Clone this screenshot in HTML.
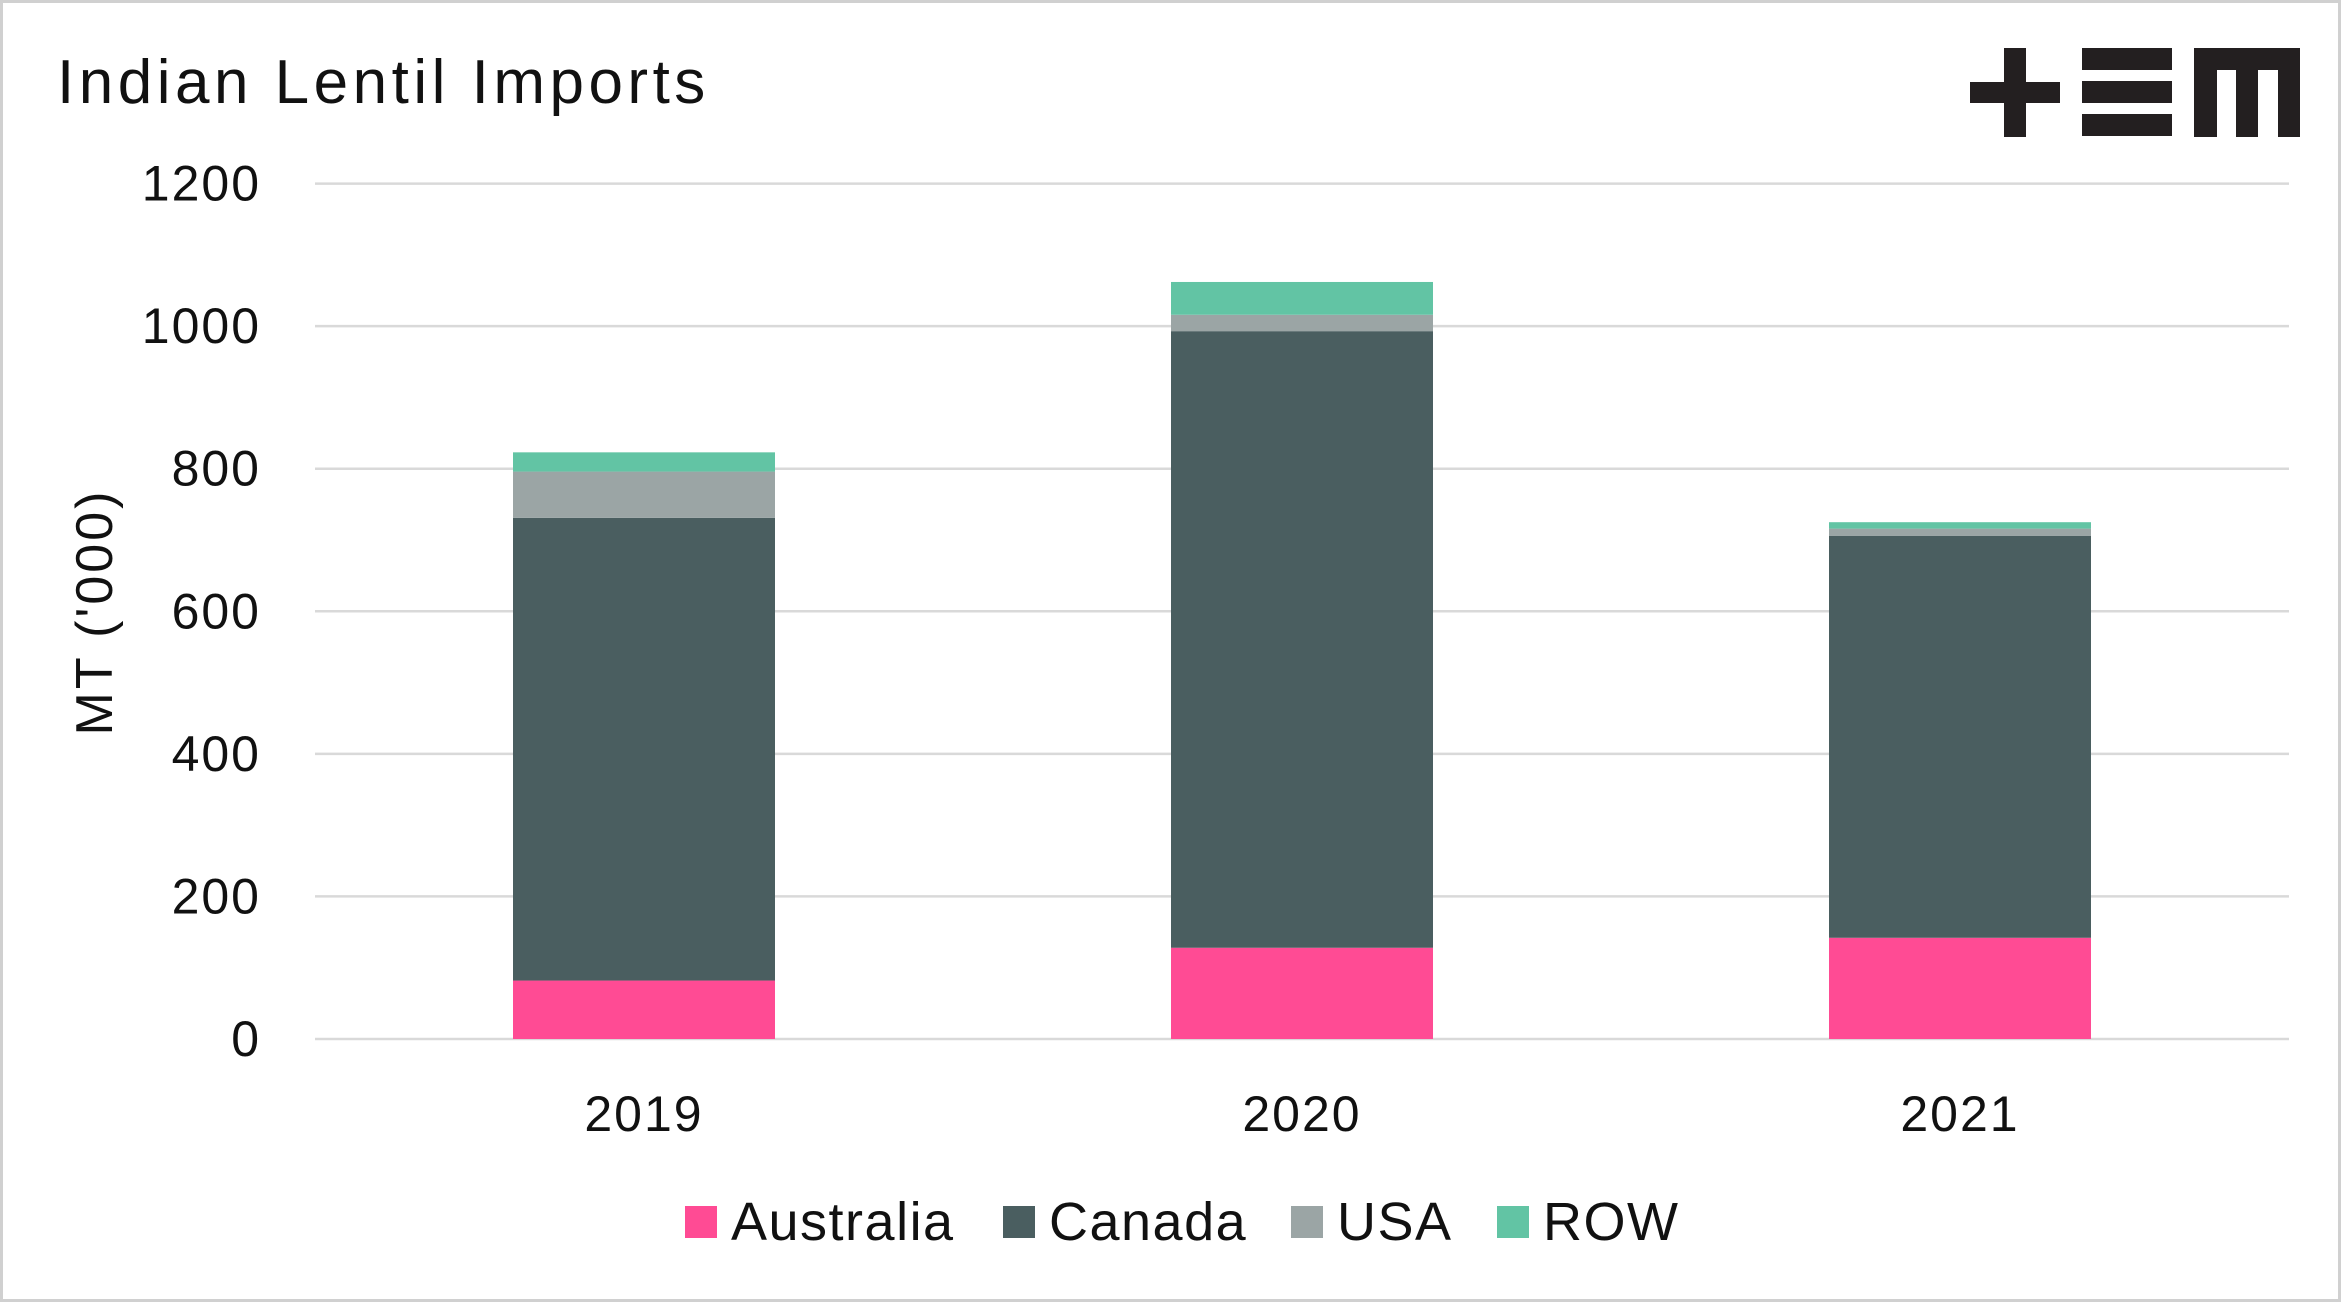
<!DOCTYPE html>
<html><head><meta charset="utf-8"><style>
html,body{margin:0;padding:0;background:#fff}
svg{display:block;font-family:"Liberation Sans",sans-serif}
</style></head><body>
<svg id="chart" width="2341" height="1302" viewBox="0 0 2341 1302">
<rect x="1.5" y="1.5" width="2338" height="1299" fill="#fff" stroke="#d0d0d0" stroke-width="3"/>
<text x="57" y="103" font-size="62" letter-spacing="4.5" fill="#111">Indian Lentil Imports</text>
<g fill="#231f20">
<rect x="1970" y="82" width="90" height="21"/><rect x="2004" y="48" width="22" height="89"/>
<rect x="2082" y="48" width="90" height="22"/><rect x="2082" y="81" width="90" height="22"/><rect x="2082" y="114" width="90" height="22"/>
<rect x="2194" y="48" width="106" height="22"/><rect x="2194" y="48" width="23" height="89"/><rect x="2236" y="48" width="22" height="89"/><rect x="2278" y="48" width="22" height="89"/>
</g>
<g id="grid"></g><g id="bars"></g><g id="labels"></g>
<text transform="translate(112,612) rotate(-90)" text-anchor="middle" font-size="52" letter-spacing="3" fill="#111">MT ('000)</text>
<g id="legend"></g>
</svg>
<script>
const categories = ["2019","2020","2021"];
const seriesNames = ["Australia","Canada","USA","ROW"];
const australia = [82,128,142];
const canada = [649,865,564];
const usa = [65,23,10];
const row = [27,46,9];
const yTicks = [0,200,400,600,800,1000,1200];
const colors = ["#ff4b94","#4a5e60","#9ba5a5","#62c4a4"];
const series = [australia,canada,usa,row];
const NS="http://www.w3.org/2000/svg";
const x0=315,x1=2289,yBase=1039,yTop=183.6,yMax=1200;
const y=v=>yBase-(v/yMax)*(yBase-yTop);
const bandW=(x1-x0)/categories.length, barW=262;
const xc=i=>x0+bandW*(i+0.5);
function mk(t,a,p){const e=document.createElementNS(NS,t);for(const k in a)e.setAttribute(k,a[k]);p.appendChild(e);return e;}
const grid=document.getElementById('grid'),labels=document.getElementById('labels');
yTicks.forEach(t=>{
 const l=mk('line',{x1:x0,x2:x1,y1:y(t),y2:y(t),stroke:'#d9d9d9','stroke-width':2.5},grid);
 
 
 const tx=mk('text',{x:261,y:y(t)+17,'text-anchor':'end','font-size':50,'letter-spacing':2,fill:'#111'},labels);
 tx.textContent=t;
 
 
});
const bars=document.getElementById('bars');
categories.forEach((c,i)=>{
 let acc=0;
 series.forEach((s,j)=>{
  const r=mk('rect',{x:xc(i)-barW/2,y:y(acc+s[i]),width:barW,height:y(acc)-y(acc+s[i]),fill:colors[j]},bars);
  
  
  acc+=s[i];
 });
 const tx=mk('text',{x:xc(i),y:1131,'text-anchor':'middle','font-size':50,'letter-spacing':2,fill:'#111'},labels);
 tx.textContent=c;
 
 
});
const lg=document.getElementById('legend');
const lx=[685,1003,1291,1497];
seriesNames.forEach((n,j)=>{
 const r=mk('rect',{x:lx[j],y:1206,width:32,height:32,fill:colors[j]},lg);
 
 
 const t=mk('text',{x:lx[j]+46,y:1240,'font-size':54,'letter-spacing':1.5,fill:'#111'},lg);
 t.textContent=n;
 
 
});
</script>
</body></html>
